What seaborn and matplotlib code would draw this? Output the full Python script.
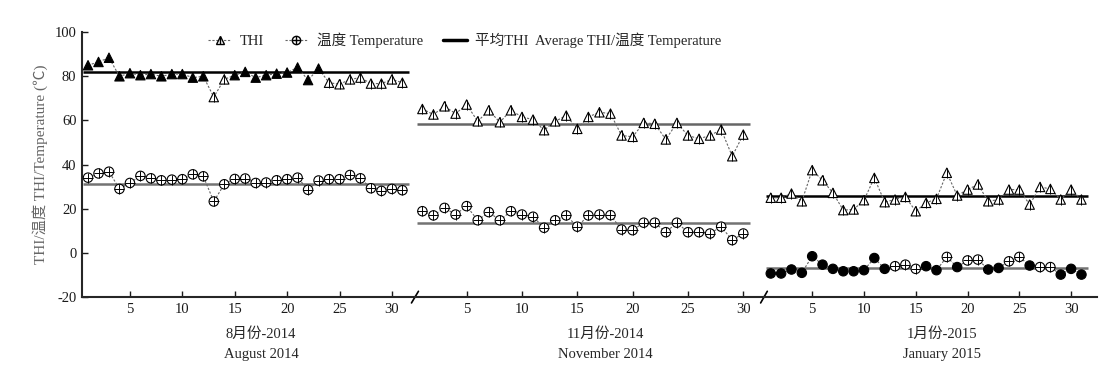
import pandas as pd
import seaborn as sns
import matplotlib.pyplot as plt
from matplotlib.lines import Line2D
#---------------------------------------------------------------------------#
# daily THI and temperature
months = ['Aug', 'Nov', 'Jan']
month_cn = ['8月份-2014', '11月份-2014', '1月份-2015']
month_en = ['August 2014', 'November 2014', 'January 2015']

aug_thi = [85, 86.5, 88.4, 80, 81.4, 80.5, 81, 80, 81, 81, 79.4, 80, 70.6, 78.6, 80.5, 82,
           79.4, 80.5, 81.2, 81.7, 84, 78.3, 83.5, 77.1, 76.4, 78.6, 79.4, 76.7, 76.7, 78.6, 77.1]
aug_temp = [34.1, 36, 36.8, 29, 31.7, 34.9, 33.8, 32.9, 33.2, 33.4, 35.6, 34.7, 23.3, 31.1, 33.5, 33.7,
            31.7, 31.9, 32.9, 33.4, 34.1, 28.6, 32.8, 33.4, 33.4, 35.3, 33.8, 29.3, 28.1, 29, 28.4]
nov_thi = [65.2, 62.7, 66.4, 63.1, 67.2, 59.6, 64.6, 59.2, 64.6, 61.6, 60.4, 55.6, 59.6, 62.2, 56.2,
           61.6, 63.7, 63.1, 53.2, 52.6, 58.9, 58.5, 51.4, 58.9, 53.2, 51.7, 53.2, 55.9, 43.8, 53.6]
nov_temp = [18.9, 17, 20.4, 17.4, 21.2, 14.8, 18.5, 14.8, 18.9, 17.4, 16.4, 11.4, 14.8, 17, 11.9,
            17, 17.4, 17.1, 10.6, 10.3, 13.7, 13.7, 9.4, 13.7, 9.4, 9.4, 8.8, 11.9, 5.8, 8.8]
jan_thi = [25, 25, 26.9, 23.4, 37.5, 32.9, 27.2, 19.4, 19.7, 23.9, 34, 23, 24.2, 25.4, 18.9, 22.7,
           24.5, 36.3, 26, 28.7, 31, 23.4, 24.2, 28.7, 28.7, 21.9, 29.9, 29, 24.2, 28.7, 24.2]
jan_temp = [-9.3, -9.3, -7.5, -9, -1.5, -5.3, -7.2, -8.3, -8.3, -7.8, -2.3, -7.2, -6, -5.3, -7.2, -6,
            -7.8, -1.8, -6.4, -3.4, -3, -7.5, -6.8, -3.8, -1.8, -5.7, -6.4, -6.4, -9.8, -7.2, -9.8]

avg_thi = [82, 58.5, 26]
avg_temp = [31.3, 13.7, -6.8]

# days drawn with solid black markers in the original
aug_thi_dark_days = list(range(1, 13)) + list(range(15, 24))
jan_temp_dark_days = list(range(1, 13)) + [16, 17, 19, 22, 23, 26, 29, 30, 31]

rows = []
for m, thi, temp in zip(months, [aug_thi, nov_thi, jan_thi], [aug_temp, nov_temp, jan_temp]):
    for d, v in enumerate(thi, 1):
        dark = m == 'Aug' and d in aug_thi_dark_days
        rows.append((m, d, 'THI', v, 'dark' if dark else 'light'))
    for d, v in enumerate(temp, 1):
        dark = m == 'Jan' and d in jan_temp_dark_days
        rows.append((m, d, 'Temp', v, 'dark' if dark else 'light'))
df = pd.DataFrame(rows, columns=['month', 'day', 'series', 'value', 'fill'])

#---------------------------------------------------------------------------#
sns.set_style('ticks')
plt.rcParams['font.family'] = ['Liberation Serif', 'Noto Sans CJK SC']
plt.rcParams['axes.unicode_minus'] = False

fig, axes = plt.subplots(1, 3, figsize=(11.12, 3.78), dpi=100, sharey=True,
                         gridspec_kw=dict(width_ratios=[333, 349, 333], wspace=0))
fig.subplots_adjust(left=0.0737, right=0.9865, bottom=0.214, top=0.915)

xlims = [(0.42, 32.2), (0.33, 31.87), (0.345, 32.5)]
avg_thi_colors = ['black', '0.4', 'black']
dash = (0, (2, 1.5))
pal = {'dark': 'black', 'light': 'white'}

for i, (ax, m) in enumerate(zip(axes, months)):
    sub = df[df.month == m]
    n = sub.day.max()
    ax.hlines(avg_thi[i], 0.5, n + 0.6, color=avg_thi_colors[i], lw=1.8, zorder=1)
    ax.hlines(avg_temp[i], 0.5, n + 0.6, color='0.45', lw=1.8, zorder=1)
    for s, mk, ov in [('THI', '^', '|'), ('Temp', 'o', '+')]:
        d = sub[sub.series == s]
        sns.lineplot(data=d, x='day', y='value', ax=ax, color='0.4', lw=0.8,
                     linestyle=dash, legend=False, zorder=2)
        sns.scatterplot(data=d, x='day', y='value', hue='fill', palette=pal, marker=mk,
                        s=46, edgecolor='black', linewidth=0.8, ax=ax, legend=False, zorder=3)
        sns.scatterplot(data=d[d['fill'] == 'light'], x='day', y='value', marker=ov,
                        color='black', s=46, linewidth=0.7, ax=ax, legend=False, zorder=4)

    ax.set_xlim(*xlims[i])
    ax.set_ylim(-20, 100)
    ax.set_xticks([5, 10, 15, 20, 25, 30])
    ax.set_xlabel('')
    ax.set_ylabel('')
    ax.tick_params(direction='in', length=4, width=1, labelsize=10.5, pad=4, colors='0.1')
    for sp in ['top', 'right']:
        ax.spines[sp].set_visible(False)
    ax.spines['bottom'].set_linewidth(1.5)
    if i > 0:
        ax.spines['left'].set_visible(False)
        ax.tick_params(axis='y', left=False)
        # break mark on the axis line
        ax.plot([-0.01, 0.01], [-0.022, 0.022], transform=ax.transAxes, color='black',
                lw=1.2, clip_on=False)
    else:
        ax.spines['left'].set_linewidth(1.5)
    ax.text(17.5, -0.14, month_cn[i], transform=ax.get_xaxis_transform(),
            ha='center', va='center', fontsize=10.5)
    ax.text(17.5, -0.215, month_en[i], transform=ax.get_xaxis_transform(),
            ha='center', va='center', fontsize=10.5)

axes[0].set_yticks([-20, 0, 20, 40, 60, 80, 100])
axes[0].set_ylabel('THI/温度 THI/Temperature (℃)', fontsize=11, color='0.4', labelpad=5)

h_thi = (Line2D([], [], color='0.4', lw=0.8, ls=dash, marker='^', ms=6, mfc='white', mec='black'),
         Line2D([], [], ls='none', marker='|', ms=6, mec='black'))
h_tmp = (Line2D([], [], color='0.4', lw=0.8, ls=dash, marker='o', ms=6, mfc='white', mec='black'),
         Line2D([], [], ls='none', marker='+', ms=6, mec='black'))
h_avg = Line2D([], [], color='black', lw=2.5)
fig.legend([h_thi, h_tmp, h_avg],
           ['THI', '温度 Temperature', '平均THI  Average THI/温度 Temperature'],
           loc='center', bbox_to_anchor=(0.418, 0.894), ncol=3, frameon=False, fontsize=10.5,
           handlelength=1.6, columnspacing=1.4, handletextpad=0.6)

plt.savefig('out.png', dpi=100)
